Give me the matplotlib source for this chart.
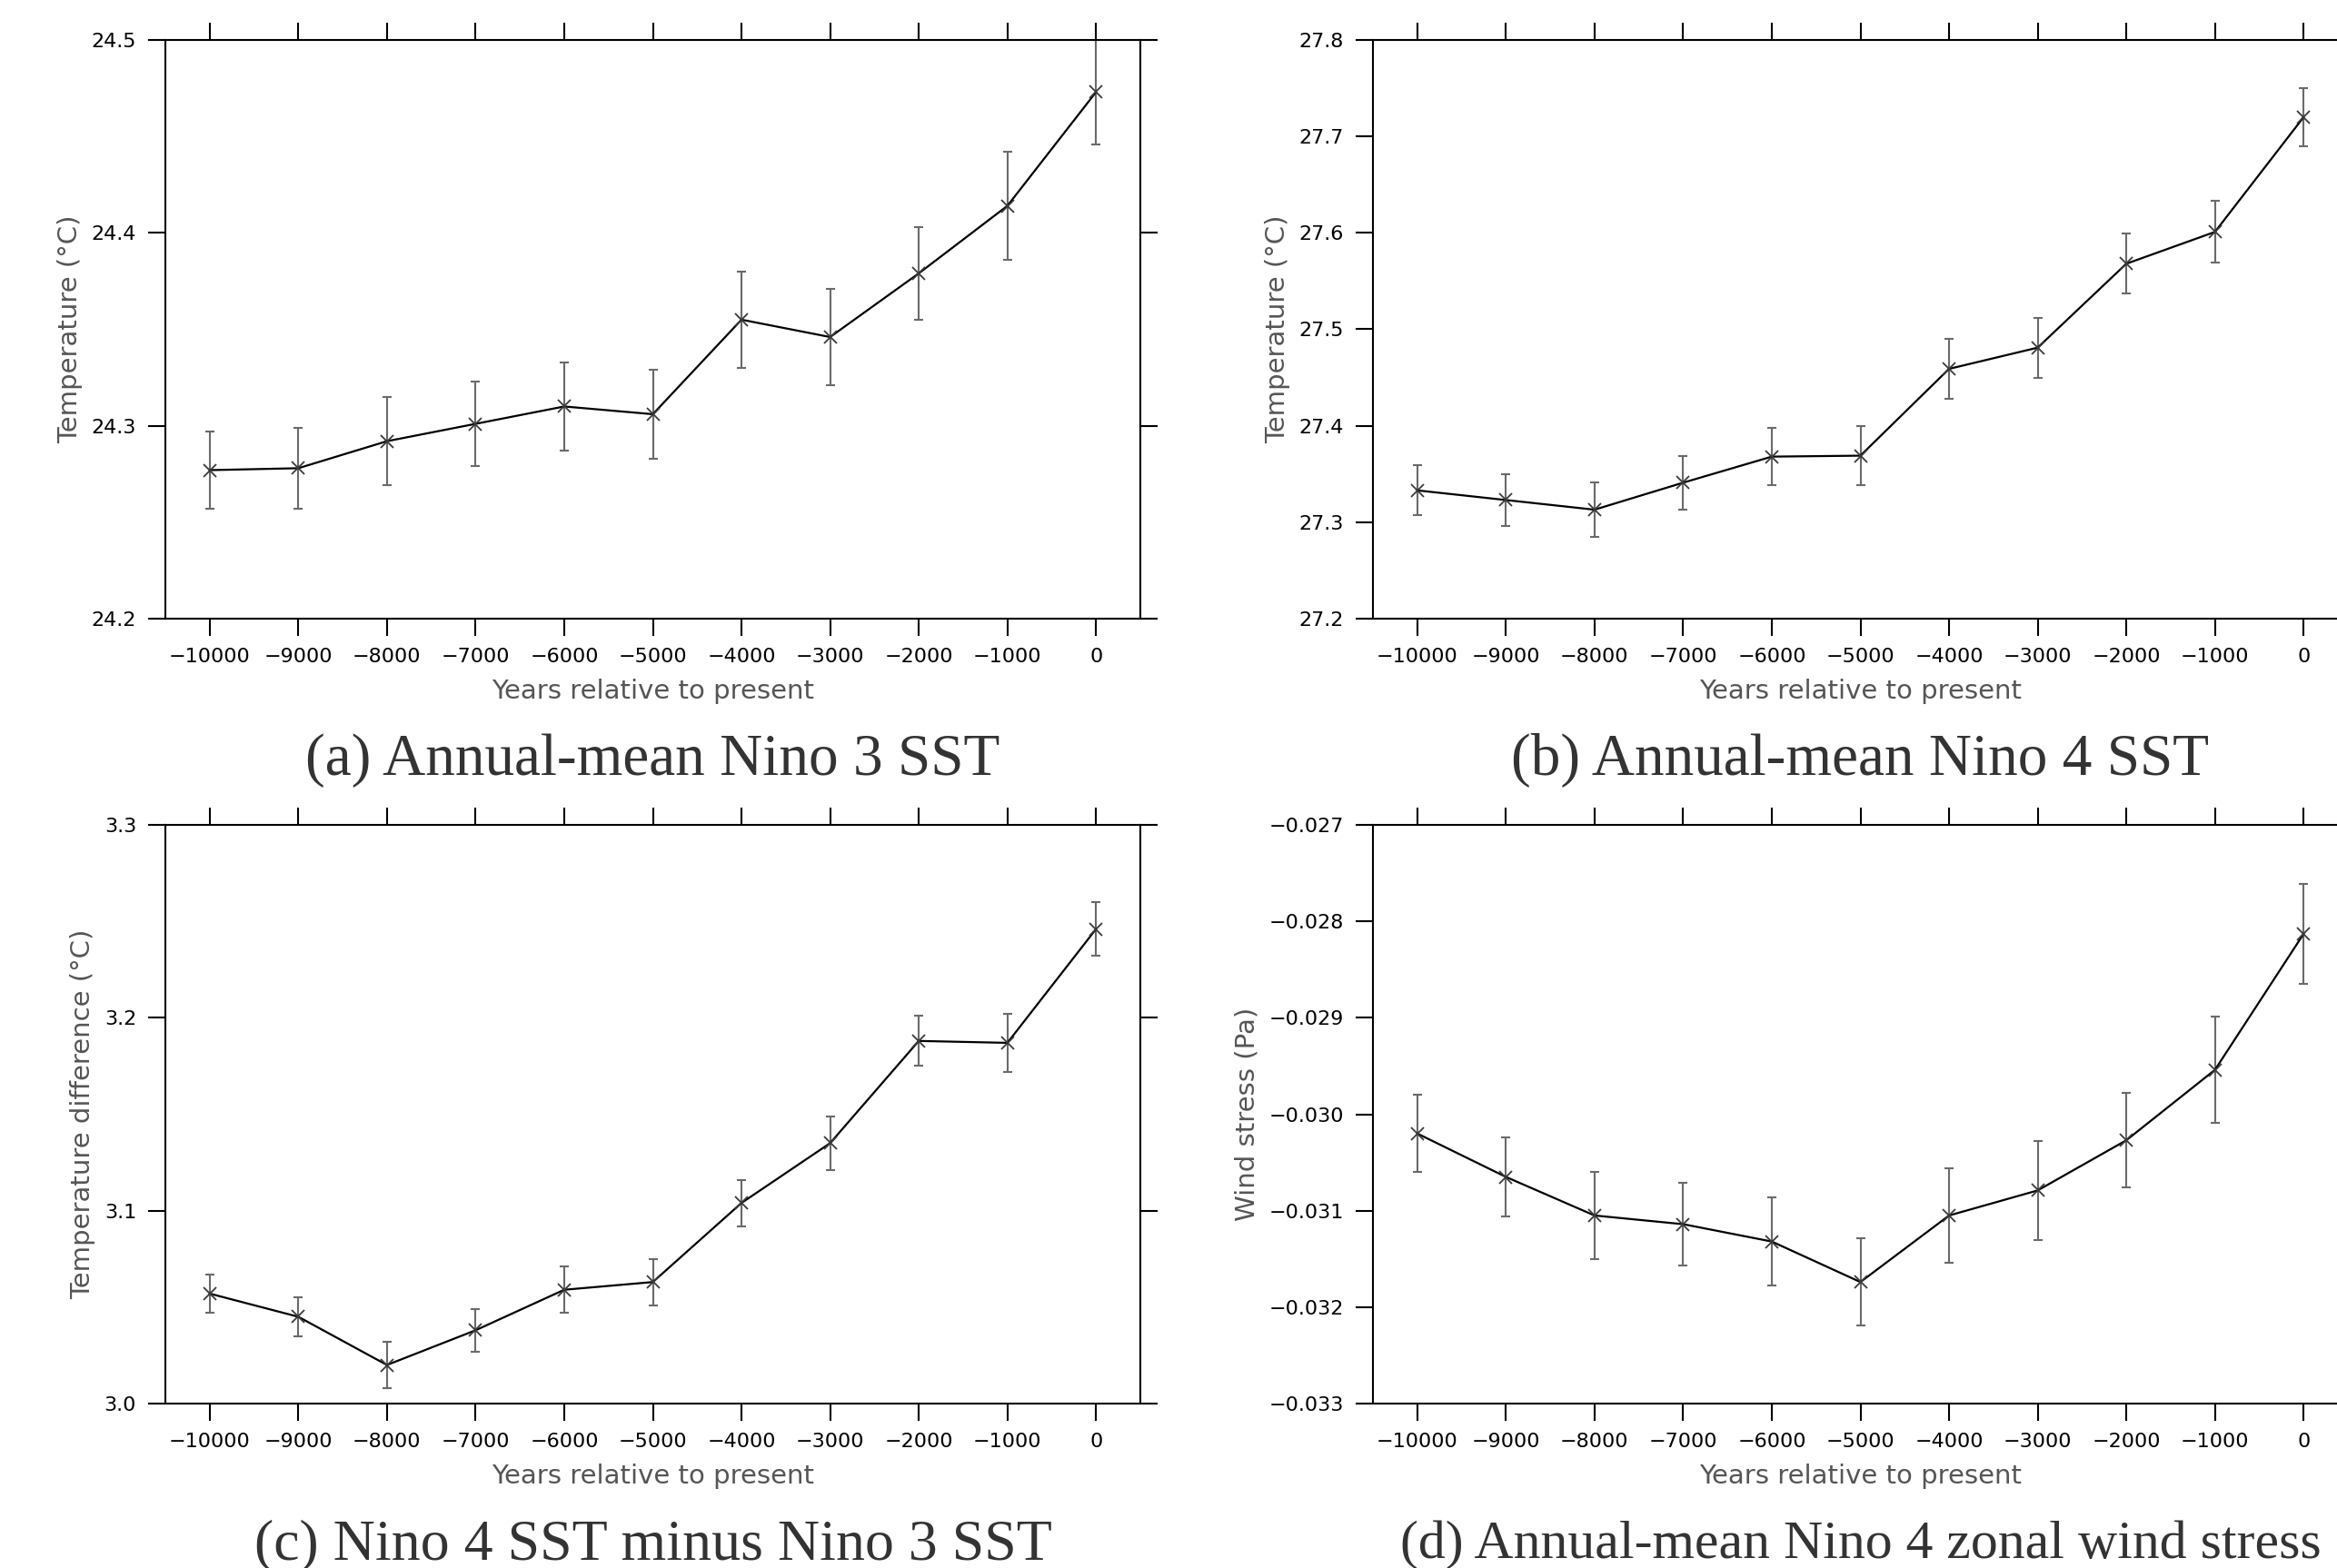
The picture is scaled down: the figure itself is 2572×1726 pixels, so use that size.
import matplotlib
matplotlib.use("Agg")
import matplotlib.pyplot as plt
from matplotlib import font_manager
from matplotlib.ticker import FuncFormatter, MultipleLocator

years = [-10000, -9000, -8000, -7000, -6000, -5000, -4000, -3000, -2000, -1000, 0]

nino3_sst = [24.277, 24.278, 24.292, 24.301, 24.310, 24.306, 24.355, 24.346, 24.379, 24.414, 24.473]
nino3_err = [0.020, 0.021, 0.023, 0.022, 0.023, 0.023, 0.025, 0.025, 0.024, 0.028, 0.027]

nino4_sst = [27.333, 27.323, 27.313, 27.341, 27.368, 27.369, 27.459, 27.481, 27.568, 27.601, 27.720]
nino4_err = [0.026, 0.027, 0.028, 0.028, 0.030, 0.031, 0.031, 0.031, 0.031, 0.032, 0.030]

sst_diff = [3.057, 3.045, 3.020, 3.038, 3.059, 3.063, 3.104, 3.135, 3.188, 3.187, 3.246]
sst_diff_err = [0.010, 0.010, 0.012, 0.011, 0.012, 0.012, 0.012, 0.014, 0.013, 0.015, 0.014]

wind_stress = [-0.03020, -0.03065, -0.03105, -0.03114, -0.03132, -0.03174,
               -0.03105, -0.03079, -0.03027, -0.02954, -0.02813]
wind_stress_err = [0.00040, 0.00041, 0.00045, 0.00043, 0.00046, 0.00045,
                   0.00049, 0.00051, 0.00049, 0.00055, 0.00052]

names = {f.name for f in font_manager.fontManager.ttflist}
if "Liberation Sans Narrow" in names:
    tick_font, tick_size = "Liberation Sans Narrow", 21
else:
    tick_font, tick_size = "DejaVu Sans", 16

W, H = 2572, 1726
fig = plt.figure(figsize=(W / 100, H / 100), dpi=100)


def add_panel(left_px, top_px, y, err, ylim, ystep, ndec, ylabel, title, title_size):
    ax = fig.add_axes([left_px / W, 1 - (top_px + 637) / H, 1073 / W, 637 / H])
    ax.errorbar(years, y, yerr=err, fmt="none", ecolor="#6a6a6a",
                elinewidth=1.5, capsize=3.6, capthick=1.5, zorder=2)
    ax.plot(years, y, color="black", lw=1.6, zorder=3)
    ax.plot(years, y, "x", color="#3a3a3a", ms=10, mew=1.3, zorder=4)

    ax.set_xlim(-10500, 500)
    ax.set_ylim(*ylim)
    ax.xaxis.set_major_locator(MultipleLocator(1000))
    ax.yaxis.set_major_locator(MultipleLocator(ystep))
    ax.yaxis.set_major_formatter(
        FuncFormatter(lambda v, p: f"{v:.{ndec}f}".replace("-", "\u2212")))
    ax.tick_params(direction="out", length=14, width=1.5, top=True, right=True,
                   labeltop=False, labelright=False, pad=9)
    for lab in ax.get_xticklabels() + ax.get_yticklabels():
        lab.set_fontfamily(tick_font)
        lab.set_fontsize(tick_size)
    for sp in ax.spines.values():
        sp.set_linewidth(1.5)

    ax.set_xlabel("Years relative to present", fontsize=21, color="#555555", labelpad=10)
    ax.set_ylabel(ylabel, fontsize=21, color="#555555", labelpad=7)
    ax.text(0.5, -0.245, title, transform=ax.transAxes, ha="center", va="center",
            fontsize=title_size, family="Liberation Serif", color="#333333")
    return ax


add_panel(182, 44, nino3_sst, nino3_err, (24.2, 24.5), 0.1, 1,
          "Temperature (°C)", "(a) Annual-mean Nino 3 SST", 47)
add_panel(1511, 44, nino4_sst, nino4_err, (27.2, 27.8), 0.1, 1,
          "Temperature (°C)", "(b) Annual-mean Nino 4 SST", 47)
add_panel(182, 908, sst_diff, sst_diff_err, (3.0, 3.3), 0.1, 1,
          "Temperature difference (°C)", "(c) Nino 4 SST minus Nino 3 SST", 46)
add_panel(1511, 908, wind_stress, wind_stress_err, (-0.033, -0.027), 0.001, 3,
          "Wind stress (Pa)", "(d) Annual-mean Nino 4 zonal wind stress", 43)

fig.savefig("out.png", dpi=100)
